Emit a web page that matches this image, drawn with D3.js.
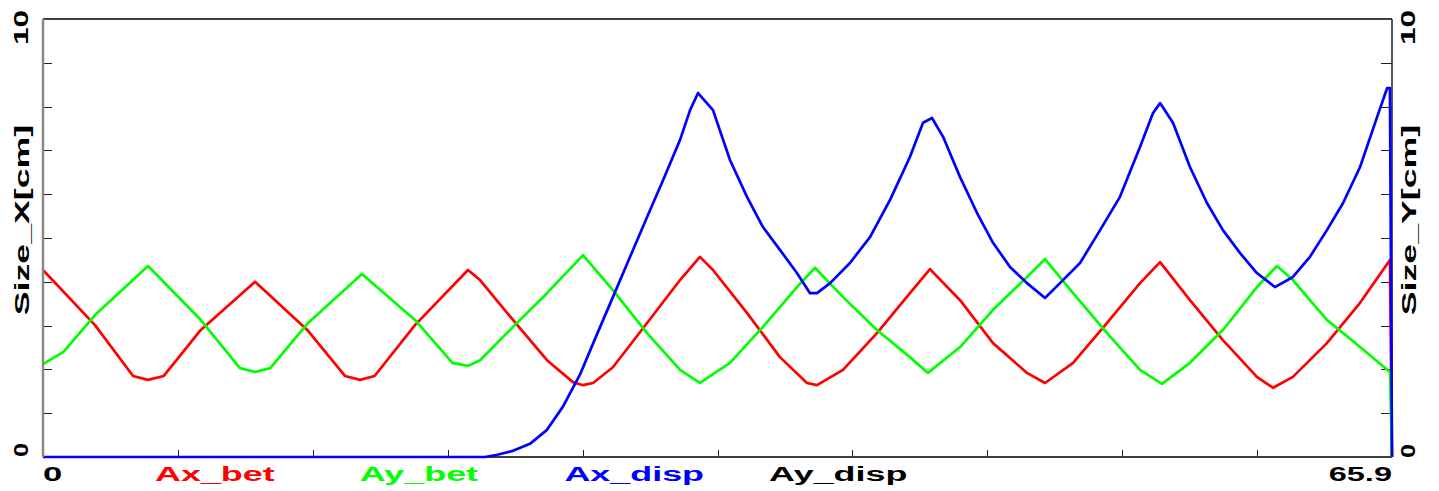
<!DOCTYPE html>
<html>
<head>
<meta charset="utf-8">
<script src="https://cdn.jsdelivr.net/npm/d3@7"></script>
<style>
  html, body { margin: 0; padding: 0; background: #fff; }
  svg { display: block; }
  text { font-family: "Liberation Sans", Arial, sans-serif; font-weight: bold; }
</style>
</head>
<body>
<div id="chart"></div>
<script>
(function () {
  "use strict";

  /***** Données *****/
  var xMax = 65.9, yMax = 10;
  var seriesNames = ["Ax_bet", "Ay_bet", "Ax_disp", "Ay_disp"];
  var seriesColors = ["#ff0000", "#00ff00", "#0000ff", "#000000"];
  var xTickLabels = ["0", "65.9"];
  var yTickLabels = ["0", "10"];
  var axisTitles = ["Size_X[cm]", "Size_Y[cm]"];

  // [temps, valeur]
  var axBet = [
    [0, 4.27], [2.54, 3.01], [4.4, 1.85], [5.13, 1.76], [5.9, 1.85], [7.67, 2.88],
    [10.36, 4.0], [12.95, 2.88], [14.75, 1.85], [15.49, 1.76], [16.2, 1.85], [18.17, 3.01],
    [20.76, 4.27], [21.35, 4.04], [22.96, 3.13], [24.62, 2.21], [25.89, 1.71], [26.38, 1.64],
    [26.87, 1.69], [27.84, 2.05], [29.51, 3.06], [31.12, 4.04], [32.09, 4.57], [32.73, 4.27],
    [34.39, 3.29], [36.0, 2.28], [37.32, 1.69], [37.81, 1.64], [39.08, 1.99], [40.74, 2.83],
    [42.35, 3.74], [43.33, 4.29], [44.8, 3.58], [46.41, 2.6], [48.07, 1.92], [48.95, 1.69],
    [50.32, 2.15], [51.98, 3.06], [53.59, 3.97], [54.57, 4.45], [56.03, 3.58], [57.64, 2.67],
    [59.3, 1.83], [60.09, 1.58], [61.06, 1.83], [62.72, 2.6], [64.34, 3.52], [65.8, 4.5],
    [65.9, 0]
  ];
  var ayBet = [
    [0, 2.12], [1.0, 2.4], [2.54, 3.24], [5.13, 4.36], [7.67, 3.15], [9.62, 2.03],
    [10.36, 1.94], [11.1, 2.03], [12.95, 3.06], [15.58, 4.18], [18.17, 3.13], [20.0, 2.15],
    [20.76, 2.08], [21.35, 2.21], [22.96, 2.97], [24.62, 3.74], [26.38, 4.61], [27.84, 3.81],
    [29.51, 2.83], [31.12, 1.99], [32.09, 1.69], [33.56, 2.15], [35.17, 2.97], [36.83, 3.88],
    [37.71, 4.32], [39.08, 3.65], [40.74, 2.9], [42.35, 2.28], [43.23, 1.92], [44.8, 2.51],
    [46.41, 3.36], [48.07, 4.11], [48.95, 4.52], [50.32, 3.74], [51.98, 2.83], [53.59, 1.99],
    [54.66, 1.67], [56.03, 2.15], [57.64, 2.9], [59.3, 3.88], [60.28, 4.36], [61.06, 4.04],
    [62.72, 3.13], [64.34, 2.51], [65.8, 1.94], [65.9, 0]
  ];
  var axDisp = [
    [0, 0], [21.6, 0], [22.2, 0.05], [22.96, 0.14], [23.79, 0.3], [24.62, 0.62],
    [25.4, 1.15], [26.23, 1.88], [27.06, 2.8], [27.84, 3.65], [28.68, 4.57], [29.51, 5.48],
    [30.29, 6.32], [31.12, 7.24], [31.61, 7.92], [32.0, 8.31], [32.73, 7.92], [33.56, 6.78],
    [34.39, 5.94], [35.17, 5.25], [36.0, 4.73], [36.83, 4.2], [37.47, 3.74], [37.81, 3.74],
    [38.45, 3.97], [39.42, 4.43], [40.4, 5.02], [41.38, 5.87], [42.35, 6.85], [42.99, 7.63],
    [43.43, 7.74], [43.97, 7.31], [44.8, 6.39], [45.63, 5.57], [46.41, 4.89], [47.24, 4.34],
    [48.07, 3.97], [48.95, 3.63], [49.68, 3.97], [50.66, 4.43], [51.64, 5.18], [52.61, 5.94],
    [53.59, 7.08], [54.22, 7.85], [54.57, 8.08], [55.2, 7.63], [56.03, 6.62], [56.86, 5.8],
    [57.64, 5.18], [58.47, 4.66], [59.3, 4.2], [60.18, 3.88], [61.06, 4.11], [61.89, 4.57],
    [62.72, 5.18], [63.51, 5.8], [64.34, 6.62], [65.17, 7.76], [65.66, 8.42], [65.8, 8.42],
    [65.9, 0]
  ];
  var seriesData = [axBet, ayBet, axDisp];

  /***** Configuration *****/
  var W = 1439, H = 491;
  var margin = {top: 19, right: 47, bottom: 34, left: 43};
  var width = W - margin.left - margin.right,
      height = H - margin.top - margin.bottom;

  var x = d3.scaleLinear().domain([0, xMax]).range([0, width]);
  var y = d3.scaleLinear().domain([0, yMax]).range([height, 0]);

  var svg = d3.select("#chart").append("svg")
    .attr("width", W).attr("height", H);

  var g = svg.append("g")
    .attr("transform", "translate(" + margin.left + "," + margin.top + ")");

  // cadre
  g.append("line").attr("x1", 0).attr("x2", width).attr("y1", 0).attr("y2", 0)
    .attr("stroke", "#000").attr("stroke-width", 1.3);
  g.append("line").attr("x1", width).attr("x2", width).attr("y1", 0).attr("y2", height)
    .attr("stroke", "#000").attr("stroke-width", 1.3);
  g.append("line").attr("x1", 0).attr("x2", width).attr("y1", height).attr("y2", height)
    .attr("stroke", "#000").attr("stroke-width", 1.6);

  // graduations
  var yTicks = d3.range(1, yMax);
  g.selectAll(".ytl").data(yTicks).enter().append("line")
    .attr("x1", 0).attr("x2", 9)
    .attr("y1", d => Math.round(y(d)) + 0.5).attr("y2", d => Math.round(y(d)) + 0.5)
    .attr("stroke", "#222");
  g.selectAll(".ytr").data(yTicks).enter().append("line")
    .attr("x1", width - 11).attr("x2", width)
    .attr("y1", d => Math.round(y(d)) + 0.5).attr("y2", d => Math.round(y(d)) + 0.5)
    .attr("stroke", "#222");
  var xTicks = d3.range(1, 10).map(i => i * xMax / 10);
  g.selectAll(".xt").data(xTicks).enter().append("line")
    .attr("x1", d => Math.round(x(d)) + 0.5).attr("x2", d => Math.round(x(d)) + 0.5)
    .attr("y1", height - 7).attr("y2", height)
    .attr("stroke", "#222");

  // courbes
  var line = d3.line().x(d => x(d[0])).y(d => y(d[1]));
  seriesData.forEach(function (s, i) {
    g.append("path").datum(s)
      .attr("d", line)
      .attr("fill", "none")
      .attr("stroke", seriesColors[i])
      .attr("stroke-width", 2.7)
      .attr("stroke-linejoin", "round");
  });

  // axe gauche (gris)
  g.append("line").attr("x1", 0).attr("x2", 0).attr("y1", 0).attr("y2", height)
    .attr("stroke", "#888").attr("stroke-width", 2.5);

  /***** Textes *****/
  function label(tx, ty, rot, anchor, txt, color, sx) {
    svg.append("text")
      .attr("transform", "translate(" + tx + "," + ty + ") rotate(" + rot + ") scale(" + sx + ",1)")
      .attr("text-anchor", anchor)
      .attr("font-size", 21)
      .attr("fill", color)
      .text(txt);
  }
  var baseY = H - 10;
  label(margin.left, baseY, 0, "start", xTickLabels[0], "#000", 1.65);
  label(margin.left + width, baseY, 0, "end", xTickLabels[1], "#000", 1.55);
  seriesNames.forEach(function (n, i) {
    label(155 + i * 204.7, baseY, 0, "start", n, seriesColors[i], 1.71);
  });

  // axes verticaux
  label(28, margin.top + height, -90, "start", yTickLabels[0], "#000", 1.2);
  label(28, margin.top + 26, -90, "start", yTickLabels[1], "#000", 1.5);
  label(29, margin.top + height / 2 - 18, -90, "middle", axisTitles[0], "#000", 1.7);
  label(1415, margin.top + height + 1, -90, "start", yTickLabels[0], "#000", 1.2);
  label(1415, margin.top + 26, -90, "start", yTickLabels[1], "#000", 1.5);
  label(1416, margin.top + height / 2 - 18, -90, "middle", axisTitles[1], "#000", 1.7);
})();
</script>
</body>
</html>
